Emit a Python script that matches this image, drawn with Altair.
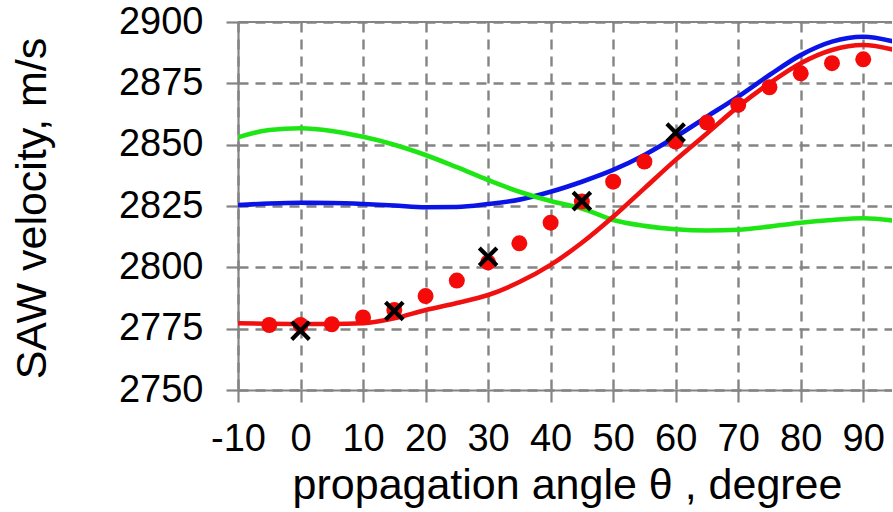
import altair as alt
import pandas as pd

# Propagation angles (degrees) at which the computed curves are sampled
theta_curve = [-10, -5, 0, 5, 10, 15, 20, 25, 30, 35, 40, 45, 50, 55, 60, 65, 70, 75, 80, 85, 90, 95]

# Computed SAW velocity curves, m/s
blue_v = [2825.4, 2826.0, 2826.3, 2826.2, 2825.8, 2825.2, 2824.5, 2824.6, 2825.8, 2827.6, 2830.8,
          2834.9, 2839.7, 2845.8, 2853.2, 2861.4, 2869.6, 2878.4, 2886.5, 2892.0, 2894.0, 2892.0]
green_v = [2853.0, 2856.0, 2856.7, 2855.6, 2853.2, 2850.0, 2845.8, 2840.8, 2835.6, 2830.8, 2827.0,
           2824.0, 2819.3, 2816.9, 2815.5, 2815.0, 2815.3, 2816.6, 2818.2, 2819.3, 2820.0, 2819.0]
red_v = [2777.2, 2777.0, 2776.9, 2776.9, 2777.2, 2779.2, 2782.6, 2785.5, 2788.7, 2794.0, 2801.0,
         2810.0, 2820.6, 2832.2, 2843.8, 2854.6, 2865.5, 2875.0, 2883.2, 2888.6, 2890.6, 2888.6]

# Red dots
dot_theta = [-5, 0, 5, 10, 15, 20, 25, 30, 35, 40, 45, 50, 55, 60, 65, 70, 75, 80, 85, 90]
dot_v = [2776.5, 2776.5, 2776.8, 2779.6, 2782.6, 2788.3, 2794.6, 2802.0, 2809.8, 2818.2,
         2826.8, 2834.9, 2843.1, 2851.2, 2859.0, 2866.2, 2873.4, 2879.1, 2883.2, 2884.8]

# Measured points (black crosses)
cross_theta = [0, 15, 30, 45, 60]
cross_v = [2774.2, 2782.2, 2804.3, 2827.0, 2854.9]

x_ticks = [-10, 0, 10, 20, 30, 40, 50, 60, 70, 80, 90]
y_ticks = [2750, 2775, 2800, 2825, 2850, 2875, 2900]

rows = []
for name, vals in (("blue", blue_v), ("green", green_v), ("red", red_v)):
    rows += [{"theta": t, "v": v, "kind": name} for t, v in zip(theta_curve, vals)]
rows += [{"theta": t, "v": v, "kind": "dot"} for t, v in zip(dot_theta, dot_v)]
rows += [{"theta": t, "v": v, "kind": "cross"} for t, v in zip(cross_theta, cross_v)]
df = pd.DataFrame(rows)

W, H = 654, 368
GRAY = "#848484"
FONT = "Liberation Sans"
PLAIN = "'' + datum.value"  # plain integers with an ASCII hyphen for negatives

x_enc = alt.X(
    "theta:Q",
    scale=alt.Scale(domain=[-10, 94.6], nice=False, zero=False),
    axis=alt.Axis(
        values=x_ticks,
        labelExpr=PLAIN,
        title="propagation angle θ , degree",
        labelBaseline="alphabetic",
        labelPadding=48,
        titleX=329,
        titleY=108,
        titleAlign="center",
        titleBaseline="alphabetic",
        labelFlush=False,
        labelOverlap=False,
    ),
)
y_enc = alt.Y(
    "v:Q",
    scale=alt.Scale(domain=[2750, 2900], nice=False, zero=False),
    axis=alt.Axis(
        values=y_ticks,
        labelExpr=PLAIN,
        title="SAW velocity, m/s",
        labelPadding=23,
        labelAlign="right",
        labelBaseline="middle",
        titleX=-193,
        titleY=186,
        titleAngle=270,
        titleAlign="center",
        titleBaseline="alphabetic",
        labelFlush=False,
        labelOverlap=False,
    ),
)

base = alt.Chart(df).encode(x=x_enc, y=y_enc)

top_line = alt.Chart(pd.DataFrame({"v": [2900]})).mark_rule(
    color=GRAY, strokeWidth=2.2
).encode(y=y_enc)

blue = base.transform_filter(alt.datum.kind == "blue").mark_line(
    color="#0a14e6", strokeWidth=4.6, interpolate="monotone", clip=True
)
green = base.transform_filter(alt.datum.kind == "green").mark_line(
    color="#1ee614", strokeWidth=4.6, interpolate="monotone", clip=True
)
red = base.transform_filter(alt.datum.kind == "red").mark_line(
    color="#f01010", strokeWidth=4.6, interpolate="monotone", clip=True
)
dots = base.transform_filter(alt.datum.kind == "dot").mark_point(
    shape="circle", filled=True, color="#f50a0a", size=255, opacity=1, clip=True
)
crosses = base.transform_filter(alt.datum.kind == "cross").mark_point(
    shape="M-1,-1L1,1M-1,1L1,-1", filled=False, color="black",
    strokeWidth=4.2, size=310, opacity=1, clip=True
)

chart = (
    alt.layer(top_line, blue, green, red, dots, crosses)
    .properties(
        width=W,
        height=H,
        background="white",
        autosize=alt.AutoSizeParams(type="none"),
        padding={"left": 238, "top": 22, "right": 0, "bottom": 120},
    )
    .configure_view(stroke=None)
    .configure_axis(
        labelFont=FONT,
        titleFont=FONT,
        labelFontSize=38,
        titleFontSize=43,
        titleFontWeight="normal",
        labelColor="black",
        titleColor="black",
        domainColor=GRAY,
        domainWidth=2.2,
        tickColor=GRAY,
        tickWidth=2.2,
        tickSize=12,
        gridColor=GRAY,
        gridWidth=2.4,
        gridDash=[10, 7],
        gridOpacity=1,
        domainOpacity=1,
    )
)

chart.save("out.html", embed_options={"renderer": "svg", "actions": False})
